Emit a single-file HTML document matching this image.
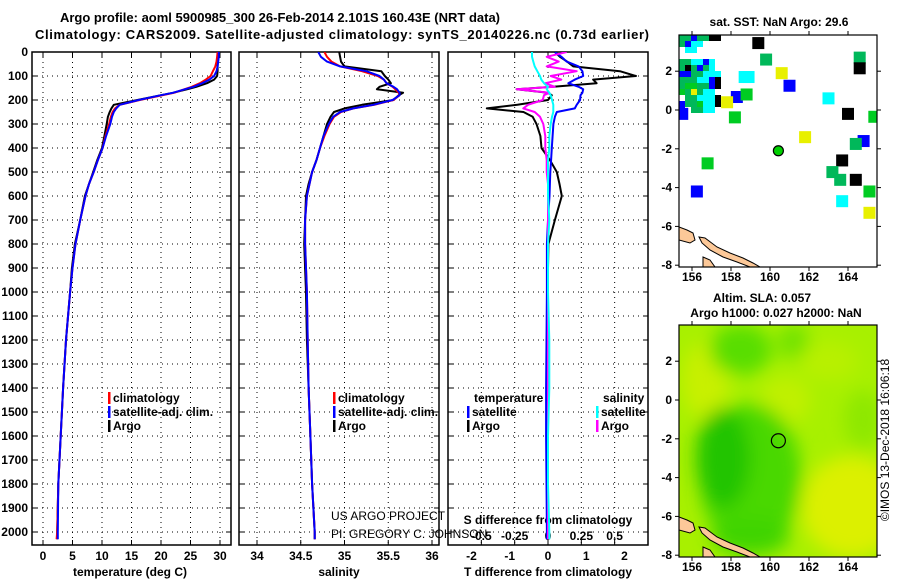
<!DOCTYPE html>
<html><head><meta charset="utf-8"><style>
body{margin:0;background:#fff;}
svg{display:block;font-family:"Liberation Sans",sans-serif;}
.b{font-weight:bold;font-size:12px;}
.t{font-weight:bold;font-size:13px;}
</style></head><body>
<svg id="c" width="900" height="580" viewBox="0 0 900 580">
<defs>
<clipPath id="cp1"><rect x="32" y="52" width="199" height="493"/></clipPath>
<clipPath id="cp2"><rect x="239" y="52" width="200" height="493"/></clipPath>
<clipPath id="cp3"><rect x="448" y="52" width="200" height="493"/></clipPath>
<clipPath id="cm1"><rect x="679" y="35" width="198" height="232"/></clipPath>
<clipPath id="cm2"><rect x="679" y="325" width="198" height="232"/></clipPath>
<filter id="blur" x="-50%" y="-50%" width="200%" height="200%"><feGaussianBlur stdDeviation="9"/></filter>
</defs>
<text class="t" x="280" y="22" text-anchor="middle">Argo profile: aoml 5900985_300 26-Feb-2014 2.101S 160.43E (NRT data)</text>
<text class="t" x="342" y="39" text-anchor="middle" textLength="614">Climatology: CARS2009. Satellite-adjusted climatology: synTS_20140226.nc (0.73d earlier)</text>
<g id="g"></g>
<text x="889" y="440" transform="rotate(-90 889 440)" text-anchor="middle" font-size="12">©IMOS 13-Dec-2018 16:06:18</text>
</svg>
<script>
// ---- data ----
const depths = [0,20,40,60,80,100,115,130,145,155,170,180,200,220,235,250,270,300,350,400,450,500,550,600,700,800,900,1000,1200,1400,1600,1800,2000,2030];
const tempArgo = [29.6,29.6,29.6,29.6,29.6,29.5,29.0,27.8,26,24.5,22,20,16,12,11.6,11.3,11,10.8,10.4,10,9.2,8.5,7.8,7.1,6.3,5.4,4.9,4.6,3.9,3.4,3.0,2.6,2.4,2.4];
const tempClim = [29.6,29.5,29.4,29.2,28.8,28.4,27.6,26.6,25.2,24,22.2,20.3,16.4,13,12.2,11.8,11.5,11.2,10.6,10.1,9.3,8.6,7.8,7.2,6.3,5.5,5.0,4.6,3.9,3.4,3.0,2.6,2.4,2.3];
const tempSat = [29.8,29.8,29.7,29.6,29.4,29.0,28.2,27.0,25.5,24.1,22,20,16.2,13,12.4,12,11.7,11.4,10.7,10.1,9.3,8.6,7.8,7.2,6.3,5.5,5.0,4.6,3.9,3.4,3.0,2.6,2.5,2.5];
const salArgo = [34.94,34.95,34.96,35.0,35.42,35.46,35.5,35.53,35.4,35.37,35.67,35.62,35.56,35.2,35.0,34.88,34.84,34.8,34.76,34.72,34.68,34.63,34.59,34.56,34.55,34.54,34.55,34.56,34.57,34.59,34.61,34.63,34.66,34.66];
const salClim = [34.77,34.8,34.85,34.95,35.2,35.38,35.45,35.48,35.55,35.58,35.62,35.63,35.56,35.34,35.1,34.96,34.88,34.83,34.77,34.72,34.68,34.63,34.6,34.57,34.55,34.55,34.56,34.57,34.58,34.59,34.61,34.63,34.66,34.66];
const salSat = [34.7,34.73,34.8,34.95,35.25,35.4,35.45,35.48,35.56,35.6,35.63,35.63,35.55,35.33,35.1,34.95,34.87,34.82,34.76,34.72,34.68,34.63,34.6,34.57,34.55,34.55,34.56,34.57,34.58,34.59,34.61,34.63,34.66,34.66];
const tDiffArgo = [0.18,0.31,0.5,0.66,1.88,2.3,1.18,1.27,0.14,-0.82,0,0.1,0,-0.8,-1.6,-0.64,-0.4,-0.3,-0.2,-0.17,0.05,0.23,0.3,0.36,0.18,0.01,0,0,0,0,0,0,0,0];
const tDiffSat = [0.18,0.35,0.49,0.8,0.9,0.92,0.7,0.53,0.8,0.92,0.9,0.85,0.84,0.75,0.7,0.23,0.18,0.14,0.12,0.1,0.08,0.06,0.05,0.04,0,-0.03,-0.03,-0.03,-0.04,-0.05,-0.05,-0.04,-0.03,-0.03];
const sDiffSat = [-0.12,-0.12,-0.11,-0.1,-0.08,-0.06,-0.05,-0.03,0,-0.01,0.01,0.02,0.03,0.04,0.04,0.04,0.03,0.02,0.01,0.01,0,0,0,0,0.01,0,0,0,0.01,0.01,0,0,0.01,0.01];
const sDiffArgo = [0.14,-0.01,0.08,-0.01,0.215,0.02,0.1,-0.02,0.05,-0.235,0.01,-0.03,-0.04,-0.15,-0.185,-0.1,-0.06,-0.035,-0.02,-0.02,-0.01,-0.01,0,0,0,0,0,0,0,0,0,0,0,0];
const depthTicks = [0,100,200,300,400,500,600,700,800,900,1000,1100,1200,1300,1400,1500,1600,1700,1800,1900,2000];
const tempTicks = [0,5,10,15,20,25,30];
const salTicks = [34,34.5,35,35.5,36];
const salTickLabels = ["34","34.5","35","35.5","36"];
const tdTicks = [-2,-1,0,1,2];
const sdTicks = [-0.5,-0.25,0,0.25,0.5];
const sdTickLabels = ["-0.5","-0.25","0","0.25","0.5"];
const lonTicks = [156,158,160,162,164];
const latTicks = [2,0,-2,-4,-6,-8];
const argoLon = 160.43, argoLat = -2.101;
const sstLon = [159.4,159.8,160.6,161.0,163.0,164.0,165.35,161.8,164.8,164.4,163.7,163.2,163.6,164.4,165.1,165.1,163.7,156.8,156.25,158.2,158.3,158.8,157.8,158.7,158.9,164.6,164.6,155.5];
const sstLat = [3.45,2.6,1.9,1.25,0.6,-0.2,-0.35,-1.4,-1.6,-1.75,-2.6,-3.2,-3.6,-3.6,-4.2,-5.3,-4.7,-2.75,-4.2,-0.38,0.67,0.8,0.4,1.7,1.7,2.7,2.15,-0.2];
const sstCol = ["k","g","y","b","c","k","G","y","b","g","k","g","g","k","G","y","c","G","b","G","b","G","y","c","c","g","k","b"];
const clusterRows = ["ggbggkkw","gbccwwww","wccwwwww","wwwwwwww","ggccbcww","gkgbgcww","bbggcccw","gggccbkw","gGGggbkw","Ggygccww","wggccckw","bggGcckw","bwggccww"];
// ---- helpers ----
const NS="http://www.w3.org/2000/svg";
const G=document.getElementById('g');
function mk(tag,attrs,parent){const e=document.createElementNS(NS,tag);for(const k in attrs)e.setAttribute(k,attrs[k]);(parent||G).appendChild(e);return e;}
const yD=d=>52+0.24*d;
const xT=v=>43+5.9*v;
const xS=v=>257+87.5*(v-34);
const xTD=v=>548+38.25*v;
const xSD=v=>548+133.3*v;
const mx=lon=>692+19.5*(lon-156);
const my1=lat=>110-19.4*lat;
const my2=lat=>400-19.4*lat;
const panels=[{x:32,w:199,clip:'cp1',xs:tempTicks.map(xT)},{x:239,w:200,clip:'cp2',xs:salTicks.map(xS)},{x:448,w:200,clip:'cp3',xs:sdTicks.map(xSD)}];
panels.forEach((p,i)=>{
  const fr=mk('rect',{x:p.x,y:52,width:p.w,height:493,fill:'#fff',stroke:'#000','stroke-width':1.5});
  
  
  depthTicks.forEach(d=>{ if(d===0)return;
    const l=mk('line',{x1:p.x,x2:p.x+p.w,y1:yD(d),y2:yD(d),stroke:'#000','stroke-dasharray':'1,4','stroke-width':1});
    
    
    mk('line',{x1:p.x,x2:p.x+5,y1:yD(d),y2:yD(d),stroke:'#000'});
    mk('line',{x1:p.x+p.w-5,x2:p.x+p.w,y1:yD(d),y2:yD(d),stroke:'#000'});
  });
  p.xs.forEach(x=>{
    const l=mk('line',{x1:x,x2:x,y1:52,y2:545,stroke:'#000','stroke-dasharray':'1,4','stroke-width':1});
    
    
    mk('line',{x1:x,x2:x,y1:540,y2:545,stroke:'#000'});
    mk('line',{x1:x,x2:x,y1:52,y2:57,stroke:'#000'});
  });
});
depthTicks.forEach(d=>{
  const t=mk('text',{x:28,y:yD(d)+4,'text-anchor':'end',class:'b'});t.textContent=d;
  
  
});
function label(x,y,s,name,anchor,cls){const t=mk('text',{x:x,y:y,'text-anchor':anchor||'middle',class:cls||'b'});t.textContent=s;
  
  return t;}
tempTicks.forEach(v=>label(xT(v),560,String(v),'temp-tick-label'));
salTicks.forEach((v,i)=>label(xS(v),560,salTickLabels[i],'sal-tick-label'));
tdTicks.forEach(v=>label(xTD(v),560,String(v),'tdiff-tick-label'));
sdTicks.forEach((v,i)=>label(xSD(v),540,sdTickLabels[i],'sdiff-tick-label'));
label(130,576,'temperature (deg C)','x-axis-title-temperature');
label(339,576,'salinity','x-axis-title-salinity');
label(548,576,'T difference from climatology','x-axis-title-tdiff');
label(548,524,'S difference from climatology','sdiff-axis-title');
function series(vals,xf,col,clip,name,w){
  const pts=vals.map((v,i)=>xf(v).toFixed(1)+','+yD(depths[i]).toFixed(1)).join(' ');
  const pl=mk('polyline',{points:pts,fill:'none',stroke:col,'stroke-width':w||2,'clip-path':'url(#'+clip+')','stroke-linejoin':'round'});
  
  
}
series(tempArgo,xT,'#000','cp1','temp-argo-line');
series(tempClim,xT,'#f00','cp1','temp-clim-line');
series(tempSat,xT,'#00f','cp1','temp-sat-line');
series(salArgo,xS,'#000','cp2','sal-argo-line');
series(salClim,xS,'#f00','cp2','sal-clim-line');
series(salSat,xS,'#00f','cp2','sal-sat-line');
series(tDiffArgo,xTD,'#000','cp3','tdiff-argo-line');
series(tDiffSat,xTD,'#00f','cp3','tdiff-sat-line');
series(sDiffArgo,xSD,'#f0f','cp3','sdiff-argo-line');
series(sDiffSat,xSD,'#0ff','cp3','sdiff-sat-line');
function leg(x,y,col,txt,name){
  mk('rect',{x:x,y:y-10,width:2.5,height:12,fill:col});
  const t=label(x+5,y,txt,name,'start');
}
leg(108,402,'#f00','climatology','legend-t-climatology');
leg(108,416,'#00f','satellite-adj. clim.','legend-t-satellite');
leg(108,430,'#000','Argo','legend-t-argo');
leg(333,402,'#f00','climatology','legend-s-climatology');
leg(333,416,'#00f','satellite-adj. clim.','legend-s-satellite');
leg(333,430,'#000','Argo','legend-s-argo');
label(474,402,'temperature','legend-title-temperature','start');
label(603,402,'salinity','legend-title-salinity','start');
leg(467,416,'#00f','satellite','legend-td-satellite');
leg(467,430,'#000','Argo','legend-td-argo');
leg(596,416,'#0ff','satellite','legend-sd-satellite');
leg(596,430,'#f0f','Argo','legend-sd-argo');
const p1=mk('text',{x:331,y:520,'font-size':12});p1.textContent='US ARGO PROJECT';


const p2=mk('text',{x:331,y:538,'font-size':12});p2.textContent='PI: GREGORY C. JOHNSON';


// ---- maps ----
const colors={g:'#00b85a',G:'#00cc22',c:'#00ffff',b:'#0000ff',k:'#000',y:'#e8f000'};
function coast(off,clip){
  const polys=[[[679,227],[687,230],[693,233],[695,240],[690,243],[679,240]],
    [[699,237],[705,238],[717,247],[730,253],[743,258],[753,263],[760,267],[750,267],[737,262],[723,257],[710,250],[702,243]],
    [[703,257],[710,260],[715,267],[703,267]]];
  polys.forEach(p=>{const c=mk('polygon',{points:p.map(q=>q[0]+','+(q[1]+off)).join(' '),fill:'#fcc898',stroke:'#000','stroke-width':1,'clip-path':'url(#'+clip+')'});
    
    });
}
// top map
const m1=mk('rect',{x:679,y:35,width:198,height:232,fill:'#fff'});


clusterRows.forEach((row,r)=>{[...row].forEach((ch,ci)=>{ if(ch==='w')return;
  const c=mk('rect',{x:679+ci*6,y:35+r*6,width:6,height:6,fill:colors[ch]});
  
  
});});
sstLon.forEach((lon,i)=>{
  const c=mk('rect',{x:mx(lon)-6,y:my1(sstLat[i])-6,width:12,height:12,fill:colors[sstCol[i]],'clip-path':'url(#cm1)'});
  
  
});
coast(0,'cm1');
const d1=mk('circle',{cx:mx(argoLon),cy:my1(argoLat),r:5,fill:'#00d000',stroke:'#000','stroke-width':1.2});


// bottom map
const bg=mk('g',{'clip-path':'url(#cm2)'});


mk('rect',{x:679,y:325,width:198,height:232,fill:'#a8f000'},bg);
const blobs=mk('g',{filter:'url(#blur)'},bg);
[[156.7,1,1.2,2,'#c8f000'],[160.8,0,1.3,1.2,'#c0f000'],[159,-4,2.6,3.8,'#48d800'],[157.6,-3,1.4,2.6,'#22c400'],[158.5,2.6,1.6,1.3,'#58de00'],[161.2,3,0.8,0.9,'#70e200'],[164.2,-5.5,2.6,2.6,'#dcf000'],[164.8,-1,1,1.5,'#8ee800'],[159,-7,2,1,'#40d400'],[163,2,1.5,1,'#b8f000']].forEach(b=>{
  mk('ellipse',{cx:mx(b[0]),cy:my2(b[1]),rx:b[2]*19.5,ry:b[3]*19.4,fill:b[4]},blobs);
});
coast(290,'cm2');
mk('rect',{x:679,y:325,width:198,height:232,fill:'none',stroke:'#000','stroke-width':1.2});
mk('rect',{x:679,y:35,width:198,height:232,fill:'none',stroke:'#000','stroke-width':1.2});
const d2=mk('circle',{cx:mx(argoLon),cy:my2(argoLat),r:7,fill:'none',stroke:'#000','stroke-width':1.2});


[[my1,35,267,281],[my2,325,557,571]].forEach(([f,top,bot,ly])=>{
  lonTicks.forEach(l=>{mk('line',{x1:mx(l),x2:mx(l),y1:bot,y2:bot+4,stroke:'#000'});mk('line',{x1:mx(l),x2:mx(l),y1:top,y2:top-4,stroke:'#000'});
    label(mx(l),ly,String(l),'lon-tick-label');});
  latTicks.forEach(l=>{mk('line',{x1:675,x2:679,y1:f(l),y2:f(l),stroke:'#000'});mk('line',{x1:877,x2:881,y1:f(l),y2:f(l),stroke:'#000'});
    label(672,f(l)+4,String(l),'lat-tick-label','end');});
});
label(779,26,'sat. SST: NaN Argo: 29.6','sst-map-title');
label(762,302,'Altim. SLA: 0.057','sla-map-title-1');
label(776,317,'Argo h1000: 0.027 h2000: NaN','sla-map-title-2');
</script>
</body></html>
